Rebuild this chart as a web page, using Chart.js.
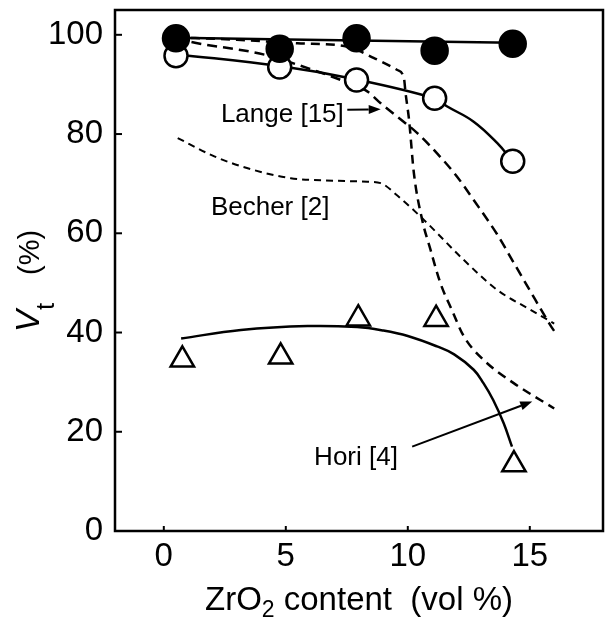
<!DOCTYPE html>
<html><head><meta charset="utf-8">
<script src="https://cdn.jsdelivr.net/npm/chart.js@4"></script>
<style>html,body{margin:0;padding:0;background:#fff;} canvas{display:block;}</style>
</head><body>
<canvas id="c" width="606" height="621"></canvas>
<script>
// ---- data ----
const xTickValues = [0, 5, 10, 15];
const yTickValues = [0, 20, 40, 60, 80, 100];

const circleX = [0.5, 4.75, 7.9, 11.1, 14.3];
const filledY = [99.3, 97.2, 99.3, 96.8, 98.2];
const openY   = [95.8, 93.5, 90.9, 87.2, 74.5];
const triX    = [0.76, 4.79, 7.97, 11.16, 14.35];
const triY    = [34.5, 35.1, 42.8, 42.7, 13.4];

const filledFitX = [0.5, 14.3];
const filledFitY = [99.4, 98.4];
const openFitX = [0.5, 4.75, 7.9, 11.1, 11.6, 12.7, 13.66, 14.3];
const openFitY = [96.1, 93.7, 91.0, 87.2, 85.6, 82.5, 78.2, 74.5];
const triFitX = [0.71, 3.16, 5.89, 7.93, 9.0, 10.0, 11.2, 11.9, 12.7, 13.1, 13.5, 13.93, 14.27];
const triFitY = [38.8, 40.5, 41.3, 41.1, 40.4, 39.3, 37.2, 35.6, 32.5, 29.8, 26.4, 21.7, 17.0];

const langeX = [0.5, 1.05, 4.12, 6.3, 7.25, 8.34, 8.89, 9.57, 10.39, 11.2, 12.02, 12.7, 13.66, 14.35, 15.0, 15.84, 16.0];
const langeY = [99.4, 98.65, 96.0, 92.6, 90.9, 88.6, 86.2, 83.5, 80.2, 76.1, 71.4, 66.7, 59.8, 54.0, 48.5, 41.5, 40.3];
const becherX = [0.57, 2.07, 3.44, 5.2, 6.98, 8.34, 8.89, 9.57, 10.66, 12.3, 13.66, 15.02, 16.0];
const becherY = [79.2, 75.5, 73.1, 71.1, 70.6, 70.4, 70.1, 67.6, 62.7, 54.6, 48.6, 44.6, 41.8];
const horiDashX = [0.5, 3.0, 5.48, 7.53, 8.62, 9.57, 9.84, 9.91, 10.05, 10.25, 10.59, 10.93, 11.34, 11.8, 12.3, 13.1, 14.34, 16.0];
const horiDashY = [99.5, 99.0, 98.3, 97.6, 95.3, 92.9, 91.3, 88.2, 82.9, 72.1, 62.7, 56.7, 49.9, 44.6, 39.2, 34.5, 29.8, 24.7];

// ---- annotations (text + arrows), anchored in data units ----
const notes = [
  {text: 'Lange [15]', x: 2.34, y: 82.5},
  {text: 'Becher [2]', x: 1.93, y: 63.7},
  {text: 'Hori [4]',   x: 6.16, y: 13.3}
];
const arrows = [
  {from: [7.52, 84.9], to: [8.89, 85.0]},
  {from: [10.18, 17.0], to: [15.1, 26.1]}
];

const pts = (xs, ys) => xs.map((x, i) => ({x: x, y: ys[i]}));
const lineDs = (xs, ys, dash, width, order, smooth) => ({
  data: pts(xs, ys), borderColor: '#000', borderWidth: width, borderDash: dash,
  pointRadius: 0, pointHoverRadius: 0, fill: false,
  cubicInterpolationMode: smooth ? 'default' : 'monotone', tension: smooth ? 0.4 : 0,
  borderCapStyle: 'butt', order: order
});
const markerDs = (xs, ys, style, radius, bg, order) => ({
  data: pts(xs, ys), showLine: false, pointStyle: style, pointRadius: radius,
  pointHoverRadius: radius, pointBorderWidth: 2.5, pointBackgroundColor: bg,
  pointBorderColor: '#000', order: order
});

const FONT = '"Liberation Sans", Arial, sans-serif';

const decor = {
  id: 'decor',
  afterDraw(chart) {
    const c = chart.ctx, a = chart.chartArea;
    const xs = chart.scales.x, ys = chart.scales.y;
    c.save();
    c.strokeStyle = '#000'; c.fillStyle = '#000';
    // frame
    c.lineWidth = 2.5;
    c.strokeRect(a.left, a.top, a.right - a.left, a.bottom - a.top);
    // inward tick marks
    c.lineWidth = 2;
    yTickValues.forEach(v => {
      const p = ys.getPixelForValue(v);
      c.beginPath(); c.moveTo(a.left, p); c.lineTo(a.left + 7, p); c.stroke();
    });
    xTickValues.forEach(v => {
      const p = xs.getPixelForValue(v);
      c.beginPath(); c.moveTo(p, a.bottom); c.lineTo(p, a.bottom - 5); c.stroke();
    });
    // annotation text
    c.font = '26px ' + FONT;
    c.textAlign = 'left'; c.textBaseline = 'alphabetic';
    notes.forEach(n => c.fillText(n.text, xs.getPixelForValue(n.x), ys.getPixelForValue(n.y)));
    // arrows
    c.lineWidth = 2;
    arrows.forEach(ar => {
      const x1 = xs.getPixelForValue(ar.from[0]), y1 = ys.getPixelForValue(ar.from[1]);
      const x2 = xs.getPixelForValue(ar.to[0]), y2 = ys.getPixelForValue(ar.to[1]);
      const ang = Math.atan2(y2 - y1, x2 - x1), L = 12, W = 4.5;
      const bx = x2 - L * Math.cos(ang), by = y2 - L * Math.sin(ang);
      c.beginPath(); c.moveTo(x1, y1); c.lineTo(bx, by); c.stroke();
      c.beginPath(); c.moveTo(x2, y2);
      c.lineTo(bx + W * Math.sin(ang), by - W * Math.cos(ang));
      c.lineTo(bx - W * Math.sin(ang), by + W * Math.cos(ang));
      c.closePath(); c.fill();
    });
    // x-axis title with subscript
    const cx = (a.left + a.right) / 2, base = 610;
    const big = '33px ' + FONT, small = '23px ' + FONT;
    const p1 = 'ZrO', p2 = '2', p3 = ' content  (vol %)';
    c.font = big; const w1 = c.measureText(p1).width, w3 = c.measureText(p3).width;
    c.font = small; const w2 = c.measureText(p2).width;
    let x0 = cx - (w1 + w2 + w3) / 2;
    c.font = big; c.fillText(p1, x0, base);
    c.font = small; c.fillText(p2, x0 + w1, base + 7);
    c.font = big; c.fillText(p3, x0 + w1 + w2, base);
    // y-axis title: V_t (%)
    c.translate(39, 332);
    c.rotate(-Math.PI / 2);
    c.font = 'italic 33px ' + FONT;
    c.fillText('V', 0, 0);
    c.font = '26px ' + FONT;
    c.fillText('t', 22, 15);
    c.font = '29px ' + FONT;
    c.fillText('(%)', 57, 0);
    c.restore();
  }
};

const zeroPad = s => { s.paddingTop = 0; s.paddingBottom = 0; s.paddingLeft = 0; s.paddingRight = 0; };

new Chart(document.getElementById('c'), {
  type: 'line',
  data: {
    datasets: [
      markerDs(circleX, filledY, 'circle', 13, '#000', 0),
      markerDs(circleX, openY, 'circle', 11.5, '#fff', 1),
      markerDs(triX, triY, 'triangle', 13.5, '#fff', 2),
      lineDs(filledFitX, filledFitY, [], 2.5, 3, false),
      lineDs(openFitX, openFitY, [], 2.5, 4, true),
      lineDs(triFitX, triFitY, [], 2.5, 5, true),
      lineDs(langeX, langeY, [10, 6], 2.5, 6, false),
      lineDs(becherX, becherY, [7, 5], 2, 7, false),
      lineDs(horiDashX, horiDashY, [9, 6], 2.5, 8, false)
    ]
  },
  options: {
    responsive: false, animation: false, devicePixelRatio: 1,
    layout: {autoPadding: false, padding: {left: 0, right: 3, top: 10, bottom: 0}},
    plugins: {legend: {display: false}, tooltip: {enabled: false}},
    events: [],
    scales: {
      x: {
        type: 'linear', min: -2, max: 18,
        grid: {display: false, drawTicks: false}, border: {display: false},
        afterBuildTicks: s => { s.ticks = xTickValues.map(v => ({value: v})); },
        afterFit: s => { s.height = 90; zeroPad(s); },
        ticks: {color: '#000', font: {family: FONT, size: 33}, padding: 6, maxRotation: 0, autoSkip: false}
      },
      y: {
        type: 'linear', min: 0, max: 105,
        grid: {display: false, drawTicks: false}, border: {display: false},
        afterBuildTicks: s => { s.ticks = yTickValues.map(v => ({value: v})); },
        afterFit: s => { s.width = 115; zeroPad(s); },
        ticks: {color: '#000', font: {family: FONT, size: 33}, padding: 12, autoSkip: false}
      }
    }
  },
  plugins: [decor]
});
</script>
</body></html>
